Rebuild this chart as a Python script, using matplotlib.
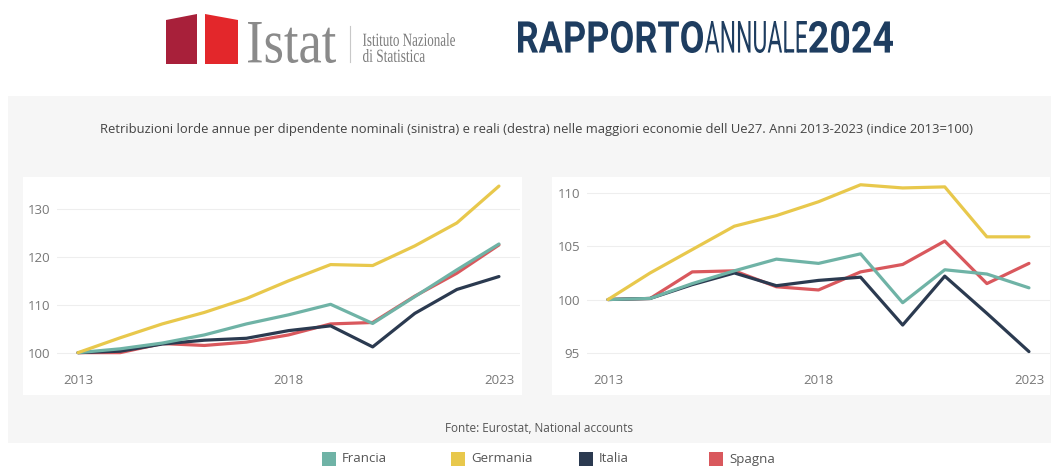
import matplotlib
matplotlib.use("Agg")
import matplotlib.pyplot as plt
from matplotlib.patches import Rectangle, Polygon, PathPatch
from matplotlib.textpath import TextPath
from matplotlib.font_manager import FontProperties
from matplotlib.transforms import Affine2D

# Dati (indice 2013=100)
anni = list(range(2013, 2024))
paesi = ["Francia", "Germania", "Italia", "Spagna"]
colori = ["#6fb3a6", "#e8c84c", "#2b3a50", "#d9585d"]

# nominali (sinistra)
nom_francia = [100, 100.8, 102.0, 103.7, 106.0, 107.9, 110.1, 106.1, 111.7, 117.3, 122.7]
nom_germania = [100, 103.1, 106.0, 108.4, 111.3, 115.0, 118.4, 118.2, 122.3, 127.1, 134.8]
nom_italia = [100, 100.3, 101.8, 102.6, 103.0, 104.6, 105.6, 101.2, 108.2, 113.2, 115.9]
nom_spagna = [100, 100.0, 101.9, 101.5, 102.2, 103.7, 106.0, 106.3, 111.8, 116.6, 122.5]

# reali (destra)
real_francia = [100, 100.1, 101.5, 102.7, 103.8, 103.4, 104.3, 99.7, 102.8, 102.4, 101.1]
real_germania = [100, 102.5, 104.7, 106.9, 107.9, 109.2, 110.8, 110.5, 110.6, 105.9, 105.9]
real_italia = [100, 100.1, 101.4, 102.5, 101.3, 101.8, 102.1, 97.6, 102.2, 98.7, 95.1]
real_spagna = [100, 100.1, 102.6, 102.7, 101.2, 100.9, 102.6, 103.3, 105.5, 101.5, 103.4]

nominali = [nom_francia, nom_germania, nom_italia, nom_spagna]
reali = [real_francia, real_germania, real_italia, real_spagna]

titolo = ("Retribuzioni lorde annue per dipendente nominali (sinistra) e reali (destra) "
          "nelle maggiori economie dell Ue27. Anni 2013-2023 (indice 2013=100)")
fonte = "Fonte: Eurostat, National accounts"

W, H = 1059, 466
fig = plt.figure(figsize=(W / 100, H / 100), dpi=100)
fig.patch.set_facecolor("white")
FONT = "Open Sans"

# asse di sfondo in pixel (y dall'alto)
bg = fig.add_axes([0, 0, 1, 1], zorder=-1)
bg.set_xlim(0, W)
bg.set_ylim(H, 0)
bg.axis("off")


def fit_text(ax, s, box, color, **fontkw):
    # testo come tracciato, scalato dentro il riquadro (x0, y0, x1, y1)
    tp = TextPath((0, 0), s, size=10, prop=FontProperties(**fontkw))
    bb = tp.get_extents()
    x0, y0, x1, y1 = box
    sx = (x1 - x0) / bb.width
    sy = (y1 - y0) / bb.height
    tr = Affine2D().translate(-bb.x0, -bb.y0).scale(sx, -sy).translate(x0, y1)
    ax.add_patch(PathPatch(tr.transform_path(tp), fc=color, ec="none", lw=0))


# Intestazione: logo Istat e Rapporto annuale
bg.add_patch(Polygon([(166, 20), (197, 14), (197, 64), (166, 64)], closed=True,
                     fc="#a8203a", ec="none", joinstyle="round"))
bg.add_patch(Polygon([(205, 14), (238, 20), (238, 64), (205, 64)], closed=True,
                     fc="#e3272b", ec="none", joinstyle="round"))
fit_text(bg, "Istat", (248, 22, 336, 63), "#8a8a8a", family="Liberation Serif")
bg.plot([350, 350], [26, 62], color="#c8c8c8", lw=0.8)
fit_text(bg, "Istituto Nazionale", (363, 33, 455, 46), "#7a7a7a", family="Liberation Serif")
fit_text(bg, "di Statistica", (363, 49, 425, 62), "#7a7a7a", family="Liberation Serif")

navy = "#1e3d60"
fit_text(bg, "RAPPORTO", (518, 21, 703, 53), navy, family="Roboto", weight="bold")
fit_text(bg, "ANNUALE", (705, 21, 807, 53), navy, family="Roboto", weight="normal")
fit_text(bg, "2024", (809, 21, 893, 53), navy, family="Roboto", weight="bold")

# pannello grigio e riquadri bianchi
bg.add_patch(Rectangle((8, 96), 1043, 347, fc="#f6f6f6", ec="none"))
bg.add_patch(Rectangle((23, 177), 499, 218, fc="white", ec="none"))
bg.add_patch(Rectangle((552, 177), 498, 218, fc="white", ec="none"))

bg.text(537, 130, titolo, ha="center", va="center", fontsize=9.35, color="#444444",
        family=FONT)
bg.text(539, 428, fonte, ha="center", va="center", fontsize=8.5, color="#555555",
        family=FONT)

# legenda
leg_x = [322, 451, 579, 709]
for x, nome, col in zip(leg_x, paesi, colori):
    bg.add_patch(Rectangle((x, 452), 14, 14, fc=col, ec="none"))
    bg.text(x + 20, 459, nome, ha="left", va="center", fontsize=9.5,
            color="#555555", family=FONT)

# ordine di disegno: Spagna, Italia, Francia, Germania
ordine = [3, 2, 0, 1]


def pannello(x0, x1, ylim, yticks, serie):
    ax = fig.add_axes([x0 / W, (H - 367) / H, (x1 - x0) / W, 190 / H])
    ax.set_facecolor("none")
    for i in ordine:
        ax.plot(anni, serie[i], color=colori[i], lw=2.3, solid_joinstyle="round",
                solid_capstyle="round")
    ax.set_xlim(2012.5, 2023.5)
    ax.set_ylim(*ylim)
    ax.set_xticks([2013, 2018, 2023])
    ax.set_yticks(yticks)
    ax.grid(axis="y", color="#eeeeee", lw=0.8)
    ax.set_axisbelow(True)
    for s in ax.spines.values():
        s.set_visible(False)
    ax.tick_params(length=0, labelsize=9.5, labelcolor="#777777", pad=5)
    for lab in ax.get_xticklabels() + ax.get_yticklabels():
        lab.set_family(FONT)
    return ax


pannello(57, 520, (97.0, 136.7), [100, 110, 120, 130], nominali)
pannello(587, 1050, (93.65, 111.53), [95, 100, 105, 110], reali)

fig.savefig("out.png", dpi=100, facecolor="white")
